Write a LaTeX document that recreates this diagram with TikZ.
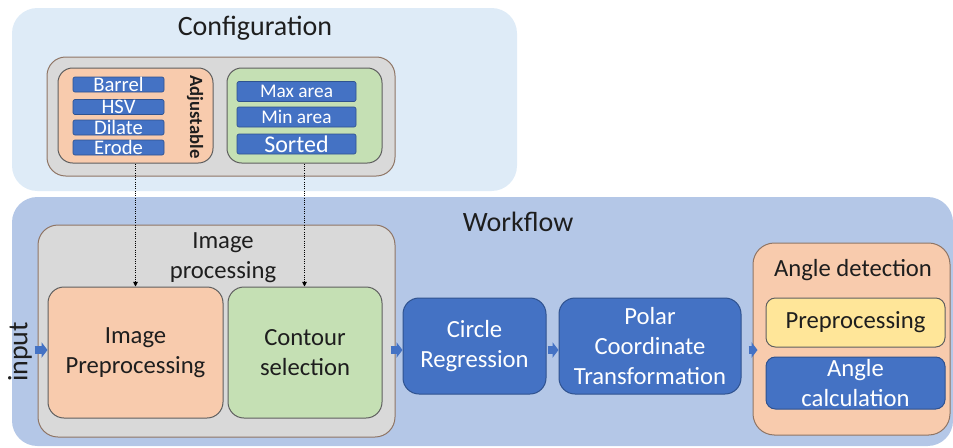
\documentclass[tikz,border=0pt]{standalone}
\usepackage{fontspec}
\setmainfont{Carlito}
\usepackage{tikz}
\usetikzlibrary{positioning,arrows.meta}

\definecolor{cfgblue}{HTML}{DEEBF7}
\definecolor{flowblue}{HTML}{B4C7E7}
\definecolor{boxgrey}{HTML}{D9D9D9}
\definecolor{brownedge}{HTML}{8F7565}
\definecolor{edge}{HTML}{5F5F5F}
\definecolor{peach}{HTML}{F8CBAD}
\definecolor{mint}{HTML}{C5E0B4}
\definecolor{steel}{HTML}{4472C4}
\definecolor{steeldark}{HTML}{2F528F}
\definecolor{butter}{HTML}{FFE699}
\definecolor{ink}{HTML}{1E1E1E}

\newcommand{\wfhead}{\fontsize{21}{25}\selectfont}
\newcommand{\wfbox}{\fontsize{18.5}{22.5}\selectfont}

\tikzset{
    panel/.style={rounded corners=19pt, inner sep=0pt},
    holder/.style={draw=brownedge, fill=boxgrey, line width=0.75pt, rounded corners=14pt, inner sep=0pt},
    stage/.style={draw=edge, line width=0.75pt, rounded corners=12pt, inner sep=0pt, align=center, font=\wfbox, text=ink},
    bluestage/.style={stage, draw=steeldark, fill=steel, text=white},
    cfgbar/.style={draw=steeldark, fill=steel, text=white, rounded corners=1.5pt, inner sep=0pt, line width=0.5pt},
    heading/.style={font=\wfhead, inner sep=0pt, text=ink},
    flowarrow/.style={draw=steel, line width=6pt, -{Triangle[length=4.5pt,width=11.5pt]}},
    cfglink/.style={densely dotted, line width=0.7pt, -{Triangle[length=3.5pt,width=3.5pt]}}
}

\begin{document}
\begin{tikzpicture}[x=0.75pt,y=-0.75pt]
\useasboundingbox (0,0) rectangle (953,447);

% configuration
\node[panel, fill=cfgblue, minimum width=378.75pt, minimum height=137.25pt] (config) at (264.5,99.5) {};
\node[heading] (configtitle) at (255,28) {Configuration};
\node[holder, minimum width=261pt, minimum height=89.25pt] (cfgholder) at (221,116.5) {};
\node[stage, fill=peach, rounded corners=11pt, minimum width=116.25pt, minimum height=71.25pt] (cfgpre) at (135.5,115.5) {};
\node[stage, fill=mint, rounded corners=11pt, minimum width=116.25pt, minimum height=71.25pt] (cfgcon) at (304.5,115.5) {};

\foreach \name/\txt/\y in {barrel/Barrel/84.5, hsv/HSV/107, dilate/Dilate/127.5, erode/Erode/147.5} {
    \node[cfgbar, minimum width=68.25pt, minimum height=11.25pt, font=\fontsize{15.5}{15.5}\selectfont] (\name) at (118.5,\y) {\txt};
}
\foreach \name/\txt/\y/\fs in {maxarea/Max area/91.5/14.5, minarea/Min area/117/14.5, sorted/Sorted/144/18} {
    \node[cfgbar, minimum width=89.25pt, minimum height=15pt, font=\fontsize{\fs}{\fs}\selectfont] (\name) at (296.5,\y) {\txt};
}
\node[rotate=-90, inner sep=0pt, text=ink, font=\bfseries\fontsize{14}{14}\selectfont] (adjust) at (195,117) {Adjustable};

% workflow
\node[panel, fill=flowblue, minimum width=705.75pt, minimum height=186.75pt] (workflow) at (482.5,321.5) {};
\node[heading] (flowtitle) at (518,222) {Workflow};

\node[holder, rounded corners=15pt, minimum width=267.75pt, minimum height=159pt] (improc) at (216.5,331) {};
\node[inner sep=0pt, align=center, font=\wfbox, text=ink] (imptitle) at (223,257.5) {Image\\processing};
\node[stage, fill=peach, minimum width=131.25pt, minimum height=98.25pt] (imgpre) at (135.5,352.5) {Image\\Preprocessing};
\node[stage, fill=mint, minimum width=115.5pt, minimum height=98.25pt] (imgcon) at (305,352.5) {Contour\\selection};

\node[bluestage, minimum width=107.25pt, minimum height=72pt] (circ) at (474.5,346) {Circle\\Regression};
\node[bluestage, minimum width=136.5pt, minimum height=72pt] (polar) at (650,346) {Polar\\Coordinate\\Transformation};

\node[holder, fill=peach, rounded corners=16pt, minimum width=147.75pt, minimum height=144pt] (angle) at (851.5,339) {};
\node[inner sep=0pt, font=\wfbox, text=ink] (angletitle) at (853,270) {Angle detection};
\node[stage, fill=butter, rounded corners=7pt, minimum width=134.25pt, minimum height=36.75pt] (prep) at (855.5,322.5) {Preprocessing};
\node[bluestage, rounded corners=7pt, minimum width=134.25pt, minimum height=39pt] (calc) at (855.5,383) {Angle\\calculation};

\node[rotate=90, inner sep=0pt, font=\wfhead, text=ink] (input) at (20,352) {input};
\coordinate (flowline) at (0,350);

\draw[flowarrow] ([xshift=-2.25pt]improc.west |- flowline) -- (imgpre.west |- flowline);
\draw[flowarrow] ([xshift=-3.75pt]improc.east |- flowline) -- (circ.west |- flowline);
\draw[flowarrow] ([xshift=0.75pt]circ.east |- flowline) -- (polar.west |- flowline);
\draw[flowarrow] ([xshift=5.25pt]polar.east |- flowline) -- ([xshift=3.75pt]angle.west |- flowline);

\draw[cfglink] (cfgpre.south) -- (imgpre.north -| cfgpre.south);
\draw[cfglink] (cfgcon.south) -- (imgcon.north -| cfgcon.south);

\end{tikzpicture}
\end{document}
